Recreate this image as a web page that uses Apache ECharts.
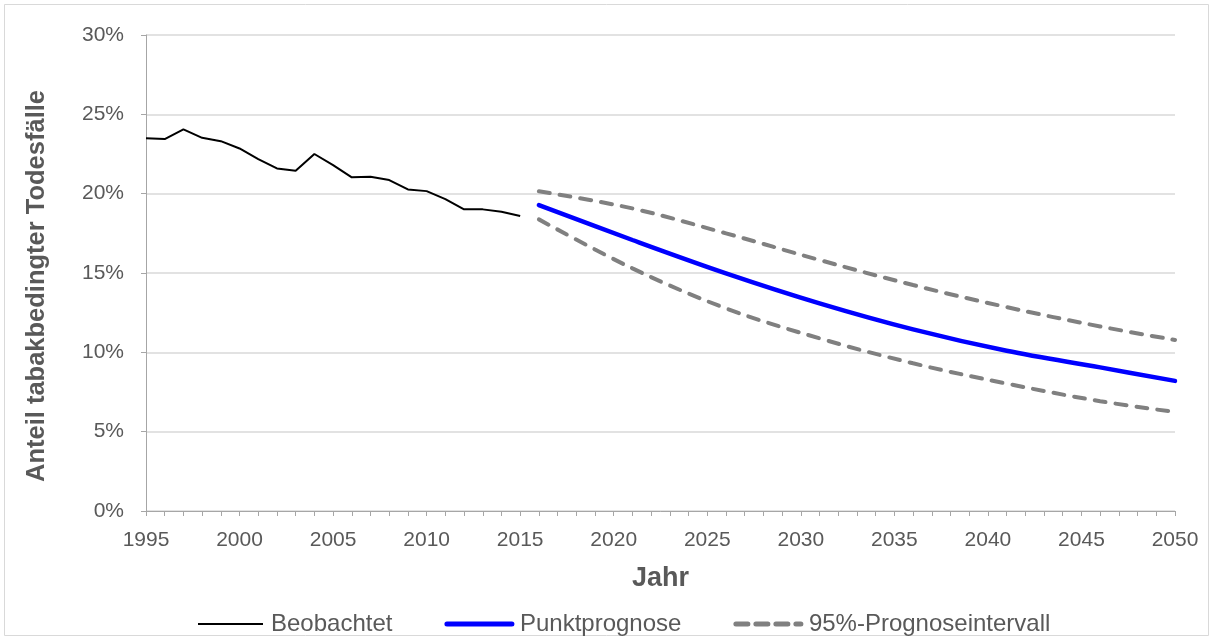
<!DOCTYPE html>
<html>
<head>
<meta charset="utf-8">
<script src="https://cdn.jsdelivr.net/npm/echarts@6/dist/echarts.min.js"></script>
<style>
html,body{margin:0;padding:0;background:#fff;}
#main{width:1213px;height:640px;}
</style>
</head>
<body>
<div id="main"></div>
<script>
// Observed years and values (%)
const obsYears = [1995,1996,1997,1998,1999,2000,2001,2002,2003,2004,2005,2006,2007,2008,2009,2010,2011,2012,2013,2014,2015];
const obsValues = [23.49,23.44,24.05,23.52,23.31,22.85,22.18,21.59,21.44,22.50,21.80,21.03,21.07,20.86,20.27,20.16,19.66,19.01,19.01,18.86,18.59];
// Forecast years and values (%)
const fcYears = [2016,2021,2026,2031,2036,2041,2046,2050];
const pointValues = [19.28,17.08,14.98,13.09,11.45,10.10,9.05,8.20];
const upperValues = [20.15,19.07,17.50,15.82,14.24,12.85,11.63,10.78];
const lowerValues = [18.38,15.29,12.77,10.88,9.31,8.03,6.92,6.24];
const yTicks = [0,5,10,15,20,25,30];

const pair = (xs, ys) => xs.map((x,i)=>[x, ys[i]]);
const txt = '#595959';
const font = 'Liberation Sans, Arial, sans-serif';
const dash = [11,10];

const chart = echarts.init(document.getElementById('main'));
chart.setOption({
  animation:false,
  backgroundColor:'#fff',
  textStyle:{fontFamily:font},
  graphic:[{type:'rect',shape:{x:4.5,y:4.5,width:1204,height:631},style:{fill:'none',stroke:'#d9d9d9',lineWidth:1},silent:true}],
  grid:{left:146,right:38,top:35,bottom:129,containLabel:false},
  legend:{
    left:192, top:607, itemWidth:65, itemHeight:14, itemGap:52,
    itemStyle:{opacity:0},
    textStyle:{color:txt,fontSize:24,fontFamily:font,padding:[0,0,0,3]},
    data:[
      {name:'Beobachtet',lineStyle:{color:'#000',width:2}},
      {name:'Punktprognose',lineStyle:{color:'#0000ff',width:5,cap:'round'}},
      {name:'95%-Prognoseintervall',lineStyle:{color:'#808080',width:5,type:[12,8],cap:'round'}}
    ]
  },
  xAxis:{
    type:'value', min:1995, max:2050, interval:5,
    name:'Jahr', nameLocation:'middle', nameGap:54,
    nameTextStyle:{color:txt,fontSize:27,fontWeight:'bold',fontFamily:font},
    axisLine:{lineStyle:{color:'#a6a6a6',width:1}},
    axisTick:{show:true,length:5,lineStyle:{color:'#a6a6a6'}},
    minorTick:{show:true,splitNumber:5,length:5,lineStyle:{color:'#a6a6a6'}},
    axisLabel:{color:txt,fontSize:21,margin:19,fontFamily:font,formatter:v=>String(v)},
    splitLine:{show:false}
  },
  yAxis:{
    type:'value', min:0, max:30, interval:5,
    name:'Anteil tabakbedingter Todesfälle', nameLocation:'middle', nameGap:96,
    nameTextStyle:{color:txt,fontSize:25.5,fontWeight:'bold',fontFamily:font,padding:[0,26,0,0]},
    axisLine:{show:true,lineStyle:{color:'#a6a6a6',width:1}},
    axisTick:{show:true,length:5,lineStyle:{color:'#a6a6a6'}},
    axisLabel:{color:txt,fontSize:21,margin:22,fontFamily:font,formatter:v=>v+'%'},
    splitLine:{lineStyle:{color:'#d9d9d9',width:1.5}}
  },
  series:[
    {name:'Beobachtet',type:'line',data:pair(obsYears,obsValues),symbol:'none',
     lineStyle:{color:'#000',width:2},itemStyle:{color:'#000'}},
    {name:'Punktprognose',type:'line',data:pair(fcYears,pointValues),symbol:'none',smooth:0.35,
     lineStyle:{color:'#0000ff',width:4.5,cap:'round'},itemStyle:{color:'#0000ff'}},
    {name:'95%-Prognoseintervall',type:'line',data:pair(fcYears,upperValues),symbol:'none',smooth:0.35,
     lineStyle:{color:'#808080',width:4,type:dash,cap:'round'},itemStyle:{color:'#808080'}},
    {name:'95%-Prognoseintervall',type:'line',data:pair(fcYears,lowerValues),symbol:'none',smooth:0.35,
     lineStyle:{color:'#808080',width:4,type:dash,cap:'round'},itemStyle:{color:'#808080'}}
  ]
});
</script>
</body>
</html>
